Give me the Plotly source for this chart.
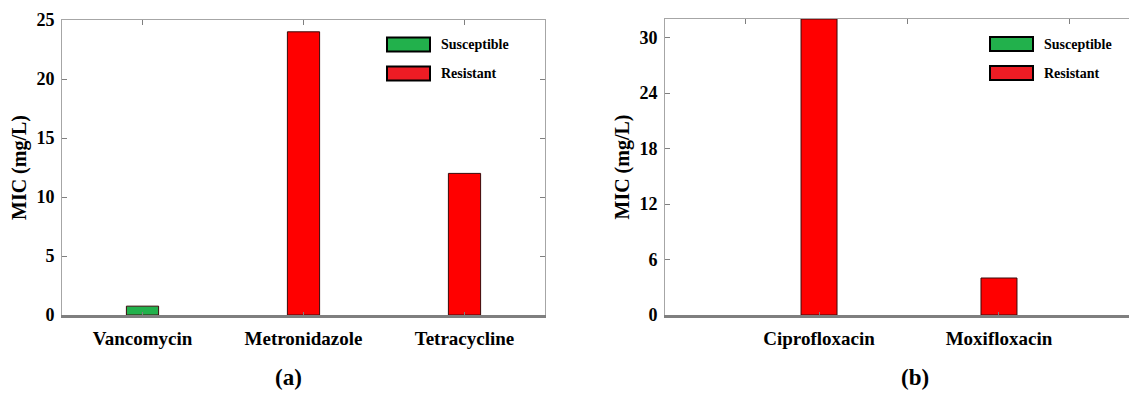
import plotly.graph_objects as go

# ---- data ----
drugs_a = ["Vancomycin", "Metronidazole", "Tetracycline"]
susceptible_a = [0.75, None, None]
resistant_a = [None, 24, 12]

drugs_b = ["Ciprofloxacin", "Moxifloxacin"]
susceptible_b = [None, None]
resistant_b = [32, 4]

yticks_a = [0, 5, 10, 15, 20, 25]
yticks_b = [0, 6, 12, 18, 24, 30]

series_names = ["Susceptible", "Resistant"]
panel_labels = ["(a)", "(b)"]
y_title = "MIC (mg/L)"

GREEN = "#22b14c"
RED = "#ff0000"
LEG_RED = "#ed1c24"
EDGE = "#3a0a0a"
FONT = "Liberation Serif"
AX_LIGHT = "#a6a6a6"
AX_DARK = "#7f7f7f"

W, H = 1137, 416
OFF = 8  # page body margin


def px(x):
    return (x - OFF) / W


def py(y):
    return 1 - (y - OFF) / H


fig = go.Figure()


def add_bars(x, sus, res, xa, ya):
    fig.add_trace(go.Bar(x=x, y=sus, name=series_names[0], width=0.2,
                         marker=dict(color=GREEN, line=dict(color=EDGE, width=1)),
                         xaxis=xa, yaxis=ya, showlegend=False))
    fig.add_trace(go.Bar(x=x, y=res, name=series_names[1], width=0.2,
                         marker=dict(color=RED, line=dict(color=EDGE, width=1)),
                         xaxis=xa, yaxis=ya, showlegend=False))


add_bars(drugs_a, susceptible_a, resistant_a, "x", "y")
add_bars(drugs_b, susceptible_b, resistant_b, "x2", "y2")

# invisible traces so the top (tick-only) axes are drawn
fig.add_trace(go.Scatter(x=[0], y=[0], mode="markers", marker=dict(opacity=0),
                         xaxis="x3", yaxis="y", showlegend=False, hoverinfo="skip"))
fig.add_trace(go.Scatter(x=[0], y=[0], mode="markers", marker=dict(opacity=0),
                         xaxis="x4", yaxis="y2", showlegend=False, hoverinfo="skip"))

tickfont = dict(family=FONT, size=18, color="black", weight="bold")
xtickfont = dict(family=FONT, size=19, color="black", weight="bold")
titlefont = dict(family=FONT, size=20, color="black", weight="bold")

dom_a = [px(62), px(545)]
dom_b = [px(665), px(1137)]
ydom_a = [py(315), py(20)]
ydom_b = [py(315), py(19)]
range_a = [-0.5, 2.5]
range_b = [-0.856, 1.767]

common_x = dict(showline=True, linecolor=AX_DARK, linewidth=2.5, ticks="inside",
                ticklen=3, tickcolor=AX_DARK, tickfont=xtickfont, automargin=False,
                ticklabelstandoff=4, showgrid=False, zeroline=False, fixedrange=True)
common_y = dict(showline=True, linecolor=AX_LIGHT, linewidth=1, ticks="inside",
                ticklen=5, tickcolor=AX_DARK, tickfont=tickfont, showgrid=False,
                zeroline=False, ticklabelstandoff=3, automargin=False)
top_x = dict(side="top", type="linear", showline=True, linecolor=AX_LIGHT, linewidth=1,
             ticks="inside", ticklen=5, tickcolor=AX_DARK, showticklabels=False,
             showgrid=False, zeroline=False, automargin=False)

fig.update_layout(
    width=W, height=H, margin=dict(l=0, r=0, t=0, b=0, autoexpand=False),
    paper_bgcolor="white", plot_bgcolor="white", barmode="overlay",
    xaxis=dict(domain=dom_a, anchor="y", range=range_a, type="category", **common_x),
    xaxis2=dict(domain=dom_b, anchor="y2", range=range_b, type="category", **common_x),
    xaxis3=dict(overlaying="x", anchor="y", range=range_a, tickvals=[0, 1, 2], **top_x),
    xaxis4=dict(overlaying="x2", anchor="y2", range=range_b,
                tickvals=[-0.41, 0.49, 1.39], **top_x),
    yaxis=dict(domain=ydom_a, anchor="x", range=[0, 25], tickvals=yticks_a, mirror="ticks",
               title=dict(text=y_title, font=titlefont, standoff=4), **common_y),
    yaxis2=dict(domain=ydom_b, anchor="x2", range=[0, 32], tickvals=yticks_b, mirror=False,
                title=dict(text=y_title, font=titlefont, standoff=4), **common_y),
)


# legends drawn as boxes + text inside each panel
def legend(x0, x1, ys):
    cols = [GREEN, LEG_RED]
    for i, (name, c) in enumerate(zip(series_names, cols)):
        yc = ys[i]
        fig.add_shape(type="rect", xref="paper", yref="paper", x0=px(x0), x1=px(x1),
                      y0=py(yc + 7), y1=py(yc - 7),
                      line=dict(color="black", width=2), fillcolor=c)
        fig.add_annotation(xref="paper", yref="paper", x=px(x1 + 9), y=py(yc), text=name,
                           showarrow=False, xanchor="left", yanchor="middle",
                           font=dict(family=FONT, size=14, color="black", weight="bold"))


legend(387, 430, [44.5, 73.5])
legend(990, 1033, [44, 73])

for lab, xc in zip(panel_labels, [288, 915]):
    fig.add_annotation(xref="paper", yref="paper", x=px(xc), y=py(377),
                       text=lab, showarrow=False, xanchor="center", yanchor="middle",
                       font=dict(family=FONT, size=23, color="black", weight="bold"))

fig.write_html("out.html")
